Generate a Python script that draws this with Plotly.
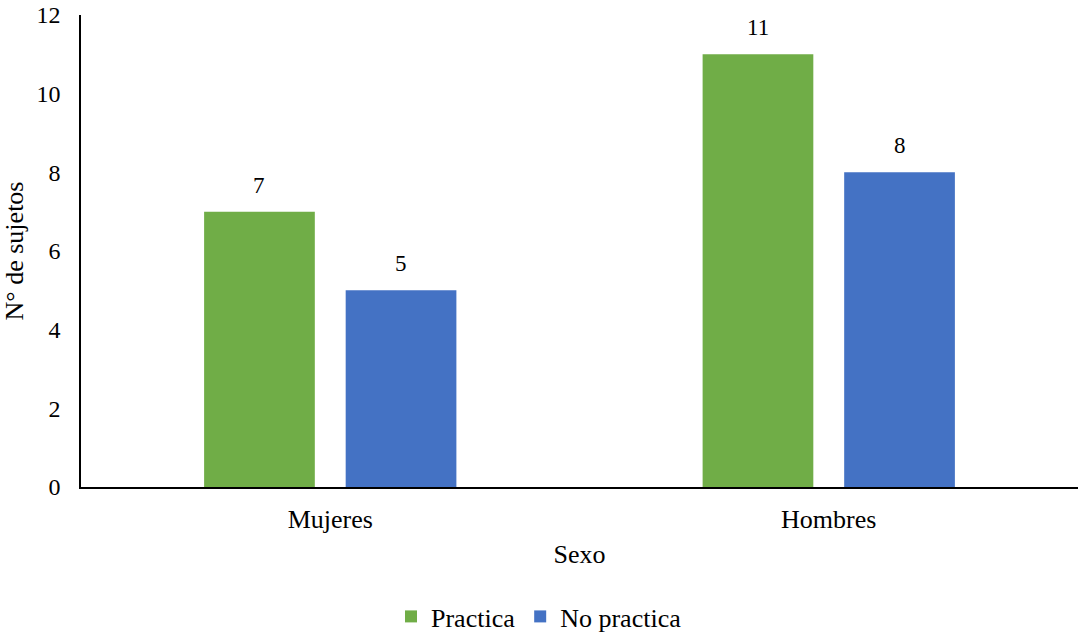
import plotly.graph_objects as go

categories = ["Mujeres", "Hombres"]
practica = [7, 11]
no_practica = [5, 8]
series_names = ["Practica", "No practica"]
series_colors = ["#70AD47", "#4472C4"]

FONT = "Liberation Serif"
W, H = 1078, 640
M = dict(l=81, r=0, t=15, b=153)
BARGAP = 0.432
BARGROUPGAP = 0.218

fig = go.Figure()
for name, vals, col in zip(series_names, [practica, no_practica], series_colors):
    fig.add_trace(go.Bar(x=categories, y=vals, name=name, marker_color=col,
                         marker_line_width=0))

# value labels above each bar, shifted to each bar's slot in its group
plot_w = W - M["l"] - M["r"]
cat_w = plot_w / len(categories)
slot_w = cat_w * (1 - BARGAP) / 2
for j, vals in enumerate([practica, no_practica]):
    for c, v in zip(categories, vals):
        fig.add_annotation(x=c, y=v, text=str(v), showarrow=False,
                           xshift=(j - 0.5) * slot_w, yshift=12, yanchor="bottom",
                           font=dict(family=FONT, size=23, color="#000"))

fig.update_layout(
    template="none",
    width=W, height=H, margin=M,
    paper_bgcolor="white", plot_bgcolor="white",
    barmode="group", bargap=BARGAP, bargroupgap=BARGROUPGAP,
    font=dict(family=FONT, size=24, color="#000"),
    showlegend=True,
    legend=dict(orientation="h", xref="container", yref="container",
                x=0.5, xanchor="center", y=0.0, yanchor="bottom",
                font=dict(family=FONT, size=26, color="#000"),
                itemwidth=30, tracegroupgap=0),
    xaxis=dict(showline=True, linecolor="#000", linewidth=1.5, ticks="",
               showgrid=False, tickfont=dict(family=FONT, size=26),
               ticklabelstandoff=8,
               title=dict(text="Sexo", font=dict(family=FONT, size=26), standoff=12)),
    yaxis=dict(range=[0, 12], dtick=2, showline=True, linecolor="#000",
               linewidth=1.5, ticks="", showgrid=False, zeroline=False,
               tickfont=dict(family=FONT, size=24), ticklabelstandoff=14,
               title=dict(text="N° de sujetos", font=dict(family=FONT, size=26), standoff=10)),
)

fig.write_html("out.html")
